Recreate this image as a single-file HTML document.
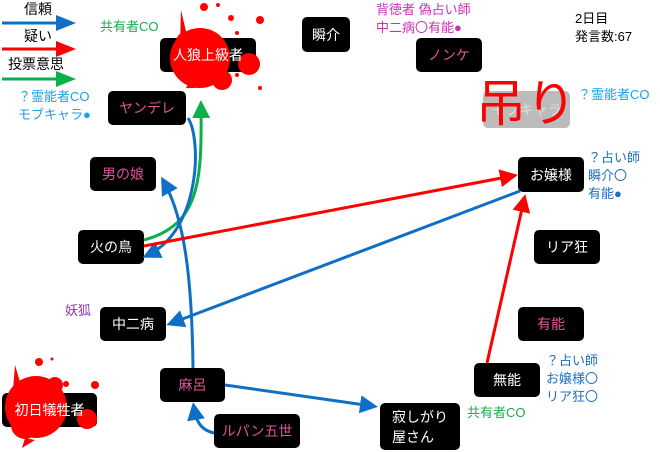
<!DOCTYPE html>
<html><head><meta charset="utf-8"><style>
body{margin:0;width:660px;height:452px;background:#fff;position:relative;overflow:hidden;font-family:"Liberation Sans","Noto Sans CJK JP",sans-serif}
.n{position:absolute;background:#000;color:#fff;border-radius:5px;display:flex;align-items:center;justify-content:center;font-size:14px}
.p{color:#e0559c}
.t{position:absolute;font-size:13px;line-height:18px;white-space:nowrap}
svg{position:absolute;left:0;top:0}
</style></head><body>
<div class="n" style="left:160px;top:38px;width:96px;height:34px">人狼上級者</div>
<div class="n" style="left:302px;top:17px;width:48px;height:35px">瞬介</div>
<div class="n p" style="left:416px;top:38px;width:66px;height:34px">ノンケ</div>
<div class="n" style="left:483px;top:91px;width:87px;height:37px;background:#bbb;color:#ddd">モブキャラ</div>
<div class="n p" style="left:108px;top:91px;width:78px;height:34px">ヤンデレ</div>
<div class="n p" style="left:90px;top:157px;width:66px;height:34px">男の娘</div>
<div class="n" style="left:78px;top:230px;width:66px;height:34px">火の鳥</div>
<div class="n" style="left:100px;top:307px;width:66px;height:34px">中二病</div>
<div class="n p" style="left:160px;top:368px;width:65px;height:34px">麻呂</div>
<div class="n p" style="left:214px;top:414px;width:86px;height:34px">ルパン五世</div>
<div class="n" style="left:2px;top:393px;width:95px;height:34px">初日犠牲者</div>
<div class="n" style="left:380px;top:403px;width:80px;height:47px;line-height:20px;text-align:left">寂しがり<br>屋さん</div>
<div class="n" style="left:474px;top:363px;width:66px;height:34px">無能</div>
<div class="n p" style="left:518px;top:307px;width:66px;height:34px">有能</div>
<div class="n" style="left:534px;top:230px;width:66px;height:34px">リア狂</div>
<div class="n" style="left:518px;top:157px;width:66px;height:35px">お嬢様</div>

<svg width="660" height="452" viewBox="0 0 660 452">
<defs>
<marker id="b" markerWidth="6" markerHeight="6" refX="4" refY="3" orient="auto" markerUnits="strokeWidth"><path d="M0,0L6,3L0,6z" fill="#0f6fc6"/></marker>
<marker id="r" markerWidth="6" markerHeight="6" refX="4" refY="3" orient="auto" markerUnits="strokeWidth"><path d="M0,0L6,3L0,6z" fill="#f00"/></marker>
<marker id="g" markerWidth="6" markerHeight="6" refX="4" refY="3" orient="auto" markerUnits="strokeWidth"><path d="M0,0L6,3L0,6z" fill="#0bb04b"/></marker>
</defs>
<g fill="none" stroke-width="3">
<line x1="2" y1="23" x2="58" y2="23" stroke="#0f6fc6"/>
<line x1="2" y1="49" x2="58" y2="49" stroke="#f00"/>
<line x1="2" y1="79" x2="58" y2="79" stroke="#0bb04b"/>
<path d="M144,240 C200,225 202,180 201,106" stroke="#0bb04b" marker-end="url(#g)"/>
<path d="M188,118 C202,140 200,230 148,255" stroke="#0f6fc6" marker-end="url(#b)"/>
<path d="M193,368 C192,280 185,220 164,182" stroke="#0f6fc6" marker-end="url(#b)"/>
<line x1="144" y1="246" x2="512" y2="176" stroke="#f00" marker-end="url(#r)"/>
<line x1="520" y1="191" x2="172" y2="323" stroke="#0f6fc6" marker-end="url(#b)"/>
<line x1="487" y1="363" x2="524" y2="200" stroke="#f00" marker-end="url(#r)"/>
<line x1="225" y1="385" x2="372" y2="406" stroke="#0f6fc6" marker-end="url(#b)"/>
<path d="M214,433 C200,430 196,420 194,408" stroke="#0f6fc6" marker-end="url(#b)"/>
</g>
<path d="M56,15L76,23L56,31z" fill="#0f6fc6"/>
<path d="M56,41L76,49L56,57z" fill="#f00"/>
<path d="M56,71L76,79L56,87z" fill="#0bb04b"/>
<g fill="#f00">
<circle cx="200" cy="58" r="30"/><circle cx="186" cy="42" r="10"/><circle cx="222" cy="80" r="10"/>
<path d="M181,10 L188,40 L180,45z"/><path d="M190,80 L196,88 L186,88z"/>
<circle cx="249" cy="64" r="11"/><circle cx="204" cy="7" r="4"/><circle cx="218" cy="5" r="2"/><circle cx="231" cy="18" r="3"/><circle cx="260" cy="20" r="4"/><circle cx="237" cy="33" r="2"/><circle cx="237" cy="75" r="2"/><circle cx="260" cy="88" r="2"/>
<circle cx="36" cy="407" r="31"/><circle cx="25" cy="425" r="14"/><circle cx="55" cy="385" r="8"/>
<path d="M15,365 L23,392 L13,390z"/><path d="M25,438 L35,440 L22,448z"/>
<circle cx="87" cy="419" r="10"/><circle cx="39" cy="362" r="4"/><circle cx="52" cy="359" r="1.5"/><circle cx="66" cy="384" r="3"/><circle cx="95" cy="385" r="4"/><circle cx="71" cy="454" r="2"/>
</g>
</svg>
<div class="n" style="left:160px;top:38px;width:96px;height:34px;background:none">人狼上級者</div>
<div class="n" style="left:2px;top:393px;width:95px;height:34px;background:none">初日犠牲者</div>

<div class="t" style="left:24px;top:0px;font-size:14px">信頼</div>
<div class="t" style="left:24px;top:27px;font-size:14px">疑い</div>
<div class="t" style="left:8px;top:55px;font-size:14px">投票意思</div>
<div class="t" style="left:100px;top:18px;color:#1aab4a">共有者CO</div>
<div class="t" style="left:18px;top:88px;color:#1ea0e6">？霊能者CO<br>モブキャラ●</div>
<div class="t" style="left:376px;top:1px;color:#c931b8">背徳者 偽占い師<br>中二病〇有能●</div>
<div class="t" style="left:575px;top:10px;color:#000">2日目<br>発言数:67</div>
<div class="t" style="left:578px;top:86px;color:#1ea0e6">？霊能者CO</div>
<div class="t" style="left:588px;top:149px;color:#1a6fc0">？占い師<br>瞬介〇<br>有能●</div>
<div class="t" style="left:65px;top:302px;color:#8a3ab0">妖狐</div>
<div class="t" style="left:546px;top:352px;color:#1a6fc0">？占い師<br>お嬢様〇<br>リア狂〇</div>
<div class="t" style="left:467px;top:404px;color:#1aab4a">共有者CO</div>
<div class="t" style="left:476px;top:74px;font-size:50px;line-height:60px;color:#f00">吊り</div>
</body></html>
